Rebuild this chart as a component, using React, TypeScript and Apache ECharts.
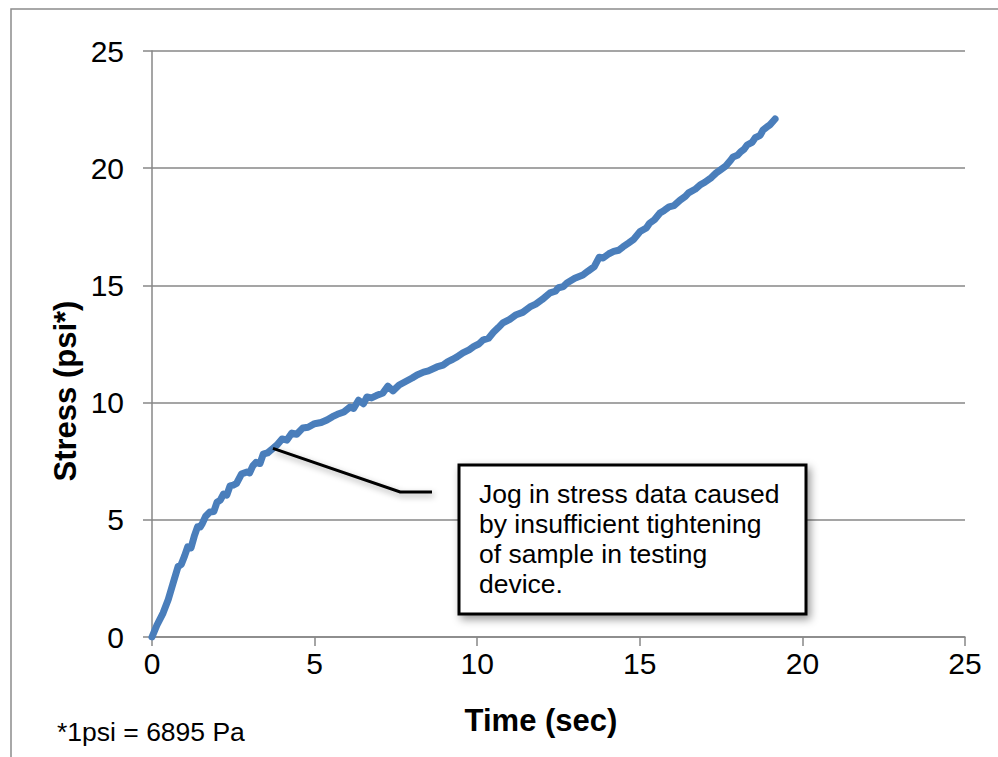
import React, { useEffect, useRef } from "react";
import * as echarts from "echarts";

const timeSec = [
  0, 0.15, 0.34, 0.5, 0.65, 0.8, 0.9, 1.0, 1.1, 1.2,
  1.3, 1.4, 1.48, 1.55, 1.65, 1.78, 1.9, 2.0, 2.1, 2.2,
  2.3, 2.4, 2.5, 2.6, 2.75, 2.92, 3.0, 3.1, 3.2, 3.32,
  3.42, 3.55, 3.72, 3.85, 4.0, 4.15, 4.3, 4.45, 4.64, 4.8,
  5.0, 5.2, 5.38, 5.55, 5.7, 5.9, 6.09, 6.2, 6.35, 6.5,
  6.61, 6.75, 6.9, 7.1, 7.25, 7.41, 7.6, 7.8, 8.0, 8.15,
  8.35, 8.5, 8.76, 8.95, 9.1, 9.25, 9.38, 9.56, 9.75, 9.9,
  10.05, 10.18, 10.35, 10.5, 10.65, 10.79, 11.0, 11.2, 11.4, 11.62,
  11.8, 12.0, 12.24, 12.4, 12.5, 12.65, 12.76, 13.0, 13.25, 13.4,
  13.6, 13.75, 13.87, 14.05, 14.2, 14.35, 14.48, 14.65, 14.8, 15.01,
  15.2, 15.3, 15.45, 15.62, 15.75, 15.9, 16.05, 16.24, 16.4, 16.5,
  16.7, 16.85, 17.0, 17.2, 17.35, 17.47, 17.65, 17.8, 17.87, 18.0,
  18.1, 18.2, 18.3, 18.45, 18.55, 18.7, 18.79, 18.9, 19.0, 19.16,
];
const stressPsi = [
  0, 0.5, 1.02, 1.6, 2.3, 3.0, 3.1, 3.45, 3.85, 3.8,
  4.3, 4.7, 4.69, 4.85, 5.15, 5.33, 5.35, 5.75, 5.84, 6.1,
  6.05, 6.45, 6.48, 6.55, 6.95, 7.04, 7.0, 7.3, 7.45, 7.4,
  7.8, 7.85, 8.05, 8.2, 8.45, 8.4, 8.7, 8.65, 8.92, 8.95,
  9.1, 9.15, 9.26, 9.4, 9.5, 9.6, 9.81, 9.75, 10.1, 9.95,
  10.24, 10.2, 10.3, 10.41, 10.7, 10.5, 10.75, 10.9, 11.05, 11.18,
  11.3, 11.35, 11.52, 11.6, 11.75, 11.85, 11.95, 12.12, 12.25, 12.4,
  12.5, 12.67, 12.75, 13.0, 13.2, 13.4, 13.55, 13.75, 13.85, 14.08,
  14.2, 14.4, 14.68, 14.75, 14.9, 14.95, 15.1, 15.3, 15.44, 15.6,
  15.8, 16.2, 16.17, 16.35, 16.45, 16.5, 16.64, 16.8, 16.95, 17.3,
  17.45, 17.65, 17.8, 18.09, 18.2, 18.35, 18.4, 18.64, 18.8, 18.95,
  19.1, 19.28, 19.4, 19.6, 19.8, 19.92, 20.1, 20.35, 20.48, 20.55,
  20.7, 20.8, 20.99, 21.1, 21.3, 21.4, 21.63, 21.75, 21.85, 22.1,
];
const axisMin = 0;
const axisMax = 25;
const axisStep = 5;
const xTitle = "Time (sec)";
const yTitle = "Stress (psi*)";
const footnote = "*1psi = 6895 Pa";
const noteLines = [
  "Jog in stress data caused",
  "by insufficient tightening",
  "of sample in testing",
  "device.",
];
// callout anchor points in data coordinates [time, stress]
const calloutPoints: number[][] = [
  [3.72, 8.05],
  [7.63, 6.19],
  [8.61, 6.19],
];

const FONT = "'Liberation Sans', Arial, sans-serif";
const GRID_COLOR = "#878787";

export default function App() {
  const ref = useRef<HTMLDivElement>(null);

  useEffect(() => {
    document.body.style.margin = "0";
    if (!ref.current) return;
    const chart = echarts.init(ref.current, undefined, { renderer: "svg" });
    const data = timeSec.map((t, i) => [t, stressPsi[i]]);
    chart.setOption({
      animation: false,
      backgroundColor: "#ffffff",
      grid: { left: 152, right: 33, top: 51, bottom: 120, containLabel: false },
      xAxis: {
        type: "value",
        min: axisMin,
        max: axisMax,
        interval: axisStep,
        axisLine: { show: true, lineStyle: { color: GRID_COLOR, width: 1.5 } },
        axisTick: { show: true, length: 9, lineStyle: { color: GRID_COLOR, width: 1.5 } },
        splitLine: { show: false },
        axisLabel: { fontSize: 30, color: "#000", fontFamily: FONT, margin: 11 },
      },
      yAxis: {
        type: "value",
        min: axisMin,
        max: axisMax,
        interval: axisStep,
        axisLine: { show: true, lineStyle: { color: GRID_COLOR, width: 1.5 } },
        axisTick: { show: true, length: 9, lineStyle: { color: GRID_COLOR, width: 1.5 } },
        splitLine: { show: true, lineStyle: { color: GRID_COLOR, width: 1.5 } },
        axisLabel: { fontSize: 30, color: "#000", fontFamily: FONT, margin: 28 },
      },
      series: [
        {
          type: "line",
          data,
          showSymbol: false,
          symbol: "none",
          smooth: false,
          lineStyle: { color: "#4a7ebb", width: 7, cap: "round", join: "round" },
          z: 3,
        },
      ],
    });

    const pts = calloutPoints.map((p) => chart.convertToPixel({ gridIndex: 0 }, p) as number[]);

    chart.setOption({
      graphic: [
        {
          type: "rect",
          shape: { x: 11, y: 9, width: 1100, height: 900 },
          style: { fill: "none", stroke: "#8c8c8c", lineWidth: 1.5 },
          silent: true,
          z: 1,
        },
        {
          type: "polyline",
          shape: { points: pts },
          style: {
            stroke: "#000",
            lineWidth: 3,
            fill: "none",
            shadowBlur: 6,
            shadowOffsetX: 2,
            shadowOffsetY: 3,
            shadowColor: "rgba(0,0,0,0.35)",
          },
          z: 10,
        },
        {
          type: "rect",
          shape: { x: 459, y: 465, width: 347, height: 149 },
          style: {
            fill: "#fff",
            stroke: "#000",
            lineWidth: 3,
            shadowBlur: 8,
            shadowOffsetX: 3,
            shadowOffsetY: 4,
            shadowColor: "rgba(0,0,0,0.4)",
          },
          z: 10,
        },
        ...noteLines.map((line, i) => ({
          type: "text",
          x: 479,
          y: 494 + i * 30,
          style: {
            text: line,
            fontSize: 26.5,
            fontFamily: FONT,
            fill: "#000",
            textAlign: "left",
            textVerticalAlign: "middle",
          },
          z: 11,
        })),
        {
          type: "text",
          x: 65,
          y: 391,
          rotation: Math.PI / 2,
          style: {
            text: yTitle,
            fontSize: 31,
            fontWeight: "bold",
            fontFamily: FONT,
            fill: "#000",
            textAlign: "center",
            textVerticalAlign: "middle",
          },
          z: 5,
        },
        {
          type: "text",
          x: 541,
          y: 720,
          style: {
            text: xTitle,
            fontSize: 31,
            fontWeight: "bold",
            fontFamily: FONT,
            fill: "#000",
            textAlign: "center",
            textVerticalAlign: "middle",
          },
          z: 5,
        },
        {
          type: "text",
          x: 57,
          y: 732,
          style: {
            text: footnote,
            fontSize: 26.5,
            fontFamily: FONT,
            fill: "#000",
            textAlign: "left",
            textVerticalAlign: "middle",
          },
          z: 5,
        },
      ],
    });

    return () => chart.dispose();
  }, []);

  return <div ref={ref} style={{ width: 998, height: 757 }} />;
}
